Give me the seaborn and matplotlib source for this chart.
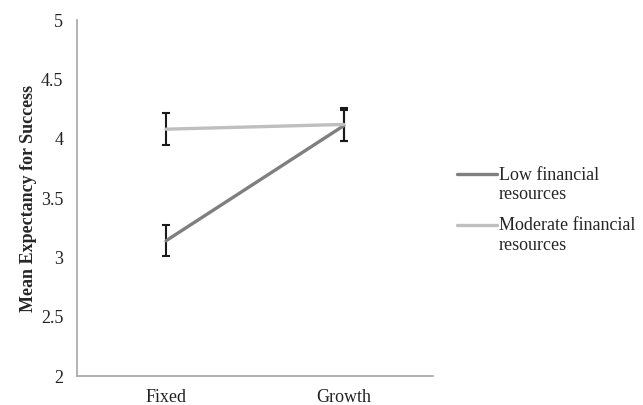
import matplotlib
matplotlib.use("Agg")
import matplotlib.pyplot as plt
import seaborn as sns
import pandas as pd

mindsets = ["Fixed", "Growth"]
groups = ["Low financial\nresources", "Moderate financial\nresources"]
low_means = [3.14, 4.11]
low_errs = [0.13, 0.13]
mod_means = [4.08, 4.12]
mod_errs = [0.135, 0.14]
y_ticks = [2, 2.5, 3, 3.5, 4, 4.5, 5]
y_tick_labels = ["2", "2.5", "3", "3.5", "4", "4.5", "5"]

df = pd.DataFrame({
    "Mindset": mindsets * 2,
    "Group": [groups[0]] * 2 + [groups[1]] * 2,
    "Mean": low_means + mod_means,
    "Err": low_errs + mod_errs,
})

sns.set_theme(style="white")
plt.rcParams["font.family"] = ["Liberation Serif", "DejaVu Serif"]

fig = plt.figure(figsize=(6.43, 4.05), dpi=100)
ax = fig.add_axes([0.12, 0.0716, 0.553, 0.879])

palette = {groups[0]: "#7f7f7f", groups[1]: "#bfbfbf"}
xpos = {m: i for i, m in enumerate(mindsets)}
df["x"] = df["Mindset"].map(xpos)

for g in groups:
    sub = df[df["Group"] == g]
    ax.errorbar(sub["x"], sub["Mean"], yerr=sub["Err"], fmt="none",
                ecolor="#1a1a1a", elinewidth=1.5, capsize=3, capthick=1.5, zorder=1)

sns.lineplot(data=df, x="x", y="Mean", hue="Group", palette=palette,
             hue_order=groups, linewidth=2.4, ax=ax, errorbar=None, zorder=3)

ax.set_xlim(-0.5, 1.5)
ax.set_ylim(2, 5)
ax.set_xticks(range(len(mindsets)))
ax.set_xticklabels(mindsets, fontsize=13)
ax.set_yticks(y_ticks)
ax.set_yticklabels(y_tick_labels, fontsize=13)
ax.tick_params(axis="both", length=0, colors="#222222")
ax.tick_params(axis="y", pad=10)
ax.tick_params(axis="x", pad=9)
ax.set_xlabel("")
ax.set_ylabel("Mean Expectancy for Success", fontsize=13, fontweight="bold", labelpad=3)
for s in ["top", "right"]:
    ax.spines[s].set_visible(False)
for s in ["left", "bottom"]:
    ax.spines[s].set_color("#a6a6a6")
    ax.spines[s].set_linewidth(1.2)

handles, labels = ax.get_legend_handles_labels()
leg = ax.legend(handles, labels, loc="center left", bbox_to_anchor=(0.686, 0.481),
                bbox_transform=fig.transFigure, frameon=False, fontsize=13,
                handlelength=2.2, handletextpad=0.1, labelspacing=0.75)
for t in leg.get_texts():
    t.set_linespacing(1.22)
for ln in leg.get_lines():
    yd = ln.get_ydata()
    ln.set_ydata([v + 7.9 for v in yd])

fig.savefig("out.png", dpi=100)
